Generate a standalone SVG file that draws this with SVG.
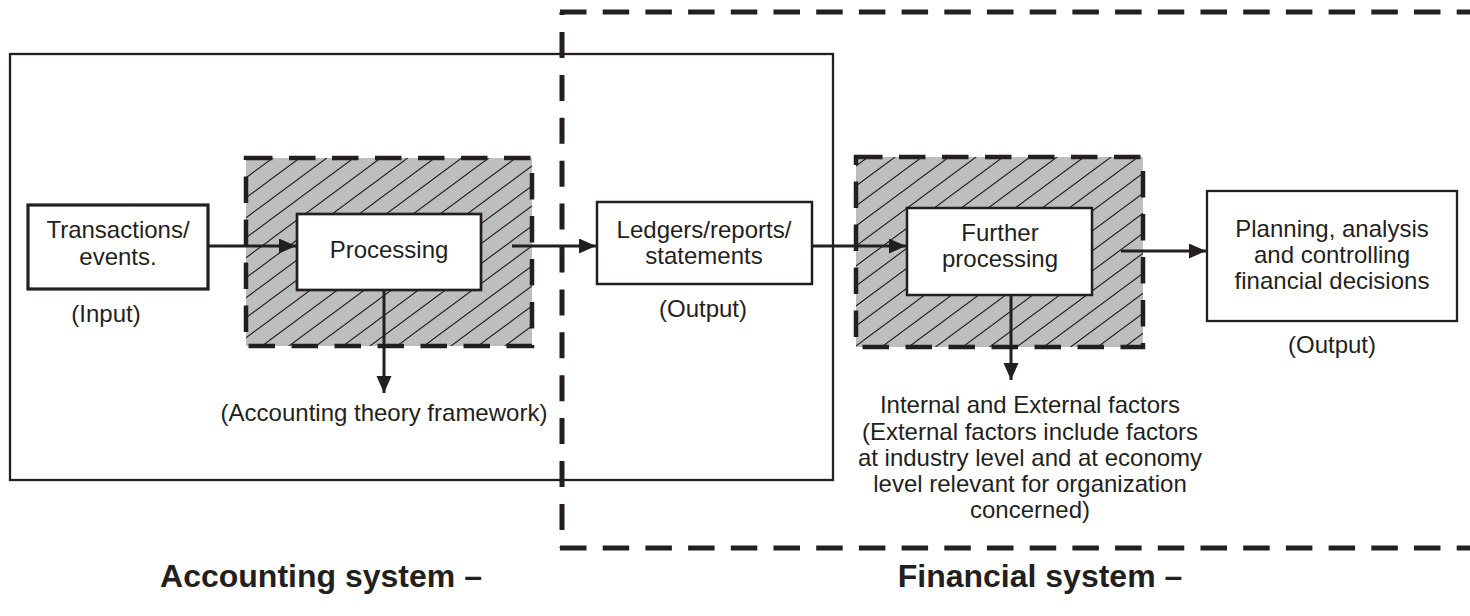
<svg xmlns="http://www.w3.org/2000/svg" width="1470" height="616" viewBox="0 0 1470 616">
  <style>
    .t { font-family: "Liberation Sans", Arial, sans-serif; font-size: 24px; fill: #231f20; text-anchor: middle; }
    .b { font-family: "Liberation Sans", Arial, sans-serif; font-size: 32px; font-weight: bold; fill: #231f20; text-anchor: middle; }
    .box { fill: #ffffff; stroke: #231f20; stroke-width: 2.5; }
    .shade-dash { fill: none; stroke: #231f20; stroke-width: 4.5; stroke-dasharray: 26.5 16.5; }
    .big-dash { fill: none; stroke: #231f20; stroke-width: 5; stroke-dasharray: 26.5 16.2; }
    .conn { fill: none; stroke: #231f20; stroke-width: 3; marker-end: url(#arrow); }
  </style>
  <defs>
    <marker id="arrow" markerUnits="userSpaceOnUse" markerWidth="18" markerHeight="16" refX="17" refY="7.5" orient="auto">
      <path d="M0,0 L17,7.5 L0,15 Z" fill="#231f20"/>
    </marker>
    <pattern id="hatch" patternUnits="userSpaceOnUse" x="0" y="0" width="27" height="20">
      <rect x="0" y="0" width="27" height="20" fill="#bcbec0"/>
      <path d="M-27,40 L27,0 M-27,20 L27,-20 M0,40 L54,0" stroke="#231f20" stroke-width="1.1" fill="none"/>
    </pattern>
  </defs>

  <g id="accounting-system">
    <rect x="10" y="54" width="823" height="426" fill="none" stroke="#231f20" stroke-width="2.3"/>
    <text class="b" x="321" y="587">Accounting system –</text>
  </g>

  <g id="financial-system">
    <line class="big-dash" x1="560" y1="12" x2="1470" y2="12"/>
    <line class="big-dash" x1="562" y1="12" x2="562" y2="548" style="stroke-dasharray: 26 16.9; stroke-dashoffset: 22.9"/>
    <line class="big-dash" x1="560" y1="548" x2="1470" y2="548"/>
    <text class="b" x="1040" y="587">Financial system –</text>
  </g>

  <g id="transactions">
    <rect class="box" x="28" y="205" width="180" height="84" style="stroke-width:3.2"/>
    <text class="t" x="118" y="238">Transactions/</text>
    <text class="t" x="118" y="265">events.</text>
    <text class="t" x="106" y="322">(Input)</text>
  </g>

  <g id="processing">
    <rect x="246" y="158" width="286" height="188" fill="url(#hatch)"/>
    <rect class="shade-dash" x="246" y="158" width="286" height="188"/>
    <rect class="box" x="297" y="214" width="184" height="76" style="stroke-width:2.7"/>
    <text class="t" x="389" y="258">Processing</text>
  </g>

  <g id="accounting-theory">
    <text class="t" x="384" y="421">(Accounting theory framework)</text>
  </g>

  <g id="ledgers">
    <rect class="box" x="597" y="202" width="215" height="82"/>
    <text class="t" x="704" y="238">Ledgers/reports/</text>
    <text class="t" x="704" y="264">statements</text>
    <text class="t" x="703" y="317">(Output)</text>
  </g>

  <g id="further-processing">
    <rect x="856" y="157" width="287" height="190" fill="url(#hatch)"/>
    <rect class="shade-dash" x="856" y="157" width="287" height="190"/>
    <rect class="box" x="907" y="208" width="185" height="87"/>
    <text class="t" x="1000" y="241">Further</text>
    <text class="t" x="1000" y="267">processing</text>
  </g>

  <g id="factors">
    <text class="t" x="1030" y="413">Internal and External factors</text>
    <text class="t" x="1030" y="440">(External factors include factors</text>
    <text class="t" x="1030" y="466">at industry level and at economy</text>
    <text class="t" x="1030" y="492">level relevant for organization</text>
    <text class="t" x="1030" y="518">concerned)</text>
  </g>

  <g id="planning">
    <rect class="box" x="1207" y="191" width="250" height="130" style="stroke-width:2.3"/>
    <text class="t" x="1332" y="237">Planning, analysis</text>
    <text class="t" x="1332" y="263">and controlling</text>
    <text class="t" x="1332" y="289">financial decisions</text>
    <text class="t" x="1332" y="353">(Output)</text>
  </g>

  <g id="connectors">
    <line class="conn" x1="208" y1="246" x2="296" y2="246"/>
    <line class="conn" x1="512" y1="246" x2="596" y2="246"/>
    <line class="conn" x1="384" y1="290" x2="384" y2="393"/>
    <line class="conn" x1="812" y1="246" x2="906" y2="246"/>
    <line class="conn" x1="1121" y1="251" x2="1206" y2="251"/>
    <line class="conn" x1="1011" y1="295" x2="1011" y2="380"/>
  </g>
</svg>
